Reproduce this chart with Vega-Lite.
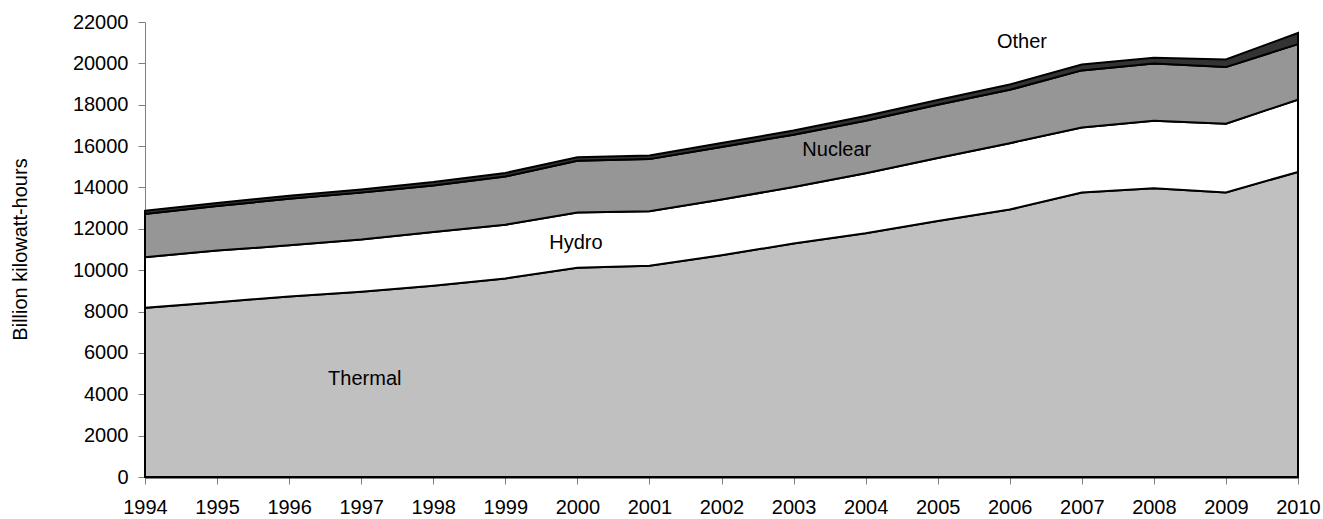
{
  "$schema": "https://vega.github.io/schema/vega-lite/v6.json",
  "width": 1153,
  "height": 455,
  "autosize": {"type": "none"},
  "padding": {"left": 145, "top": 22, "right": 25, "bottom": 42},
  "background": "white",
  "config": {
    "view": {"stroke": null},
    "font": "Liberation Sans"
  },
  "datasets": {
    "gen": [
      {"year": 1994, "source": "Thermal", "k": 1, "value": 8180},
      {"year": 1994, "source": "Hydro", "k": 2, "value": 2450},
      {"year": 1994, "source": "Nuclear", "k": 3, "value": 2090},
      {"year": 1994, "source": "Other", "k": 4, "value": 150},
      {"year": 1995, "source": "Thermal", "k": 1, "value": 8450},
      {"year": 1995, "source": "Hydro", "k": 2, "value": 2500},
      {"year": 1995, "source": "Nuclear", "k": 3, "value": 2150},
      {"year": 1995, "source": "Other", "k": 4, "value": 150},
      {"year": 1996, "source": "Thermal", "k": 1, "value": 8730},
      {"year": 1996, "source": "Hydro", "k": 2, "value": 2470},
      {"year": 1996, "source": "Nuclear", "k": 3, "value": 2250},
      {"year": 1996, "source": "Other", "k": 4, "value": 150},
      {"year": 1997, "source": "Thermal", "k": 1, "value": 8960},
      {"year": 1997, "source": "Hydro", "k": 2, "value": 2520},
      {"year": 1997, "source": "Nuclear", "k": 3, "value": 2270},
      {"year": 1997, "source": "Other", "k": 4, "value": 150},
      {"year": 1998, "source": "Thermal", "k": 1, "value": 9250},
      {"year": 1998, "source": "Hydro", "k": 2, "value": 2600},
      {"year": 1998, "source": "Nuclear", "k": 3, "value": 2250},
      {"year": 1998, "source": "Other", "k": 4, "value": 160},
      {"year": 1999, "source": "Thermal", "k": 1, "value": 9600},
      {"year": 1999, "source": "Hydro", "k": 2, "value": 2600},
      {"year": 1999, "source": "Nuclear", "k": 3, "value": 2330},
      {"year": 1999, "source": "Other", "k": 4, "value": 170},
      {"year": 2000, "source": "Thermal", "k": 1, "value": 10120},
      {"year": 2000, "source": "Hydro", "k": 2, "value": 2670},
      {"year": 2000, "source": "Nuclear", "k": 3, "value": 2500},
      {"year": 2000, "source": "Other", "k": 4, "value": 170},
      {"year": 2001, "source": "Thermal", "k": 1, "value": 10210},
      {"year": 2001, "source": "Hydro", "k": 2, "value": 2640},
      {"year": 2001, "source": "Nuclear", "k": 3, "value": 2520},
      {"year": 2001, "source": "Other", "k": 4, "value": 170},
      {"year": 2002, "source": "Thermal", "k": 1, "value": 10720},
      {"year": 2002, "source": "Hydro", "k": 2, "value": 2700},
      {"year": 2002, "source": "Nuclear", "k": 3, "value": 2540},
      {"year": 2002, "source": "Other", "k": 4, "value": 190},
      {"year": 2003, "source": "Thermal", "k": 1, "value": 11290},
      {"year": 2003, "source": "Hydro", "k": 2, "value": 2730},
      {"year": 2003, "source": "Nuclear", "k": 3, "value": 2530},
      {"year": 2003, "source": "Other", "k": 4, "value": 200},
      {"year": 2004, "source": "Thermal", "k": 1, "value": 11790},
      {"year": 2004, "source": "Hydro", "k": 2, "value": 2900},
      {"year": 2004, "source": "Nuclear", "k": 3, "value": 2540},
      {"year": 2004, "source": "Other", "k": 4, "value": 220},
      {"year": 2005, "source": "Thermal", "k": 1, "value": 12380},
      {"year": 2005, "source": "Hydro", "k": 2, "value": 3040},
      {"year": 2005, "source": "Nuclear", "k": 3, "value": 2580},
      {"year": 2005, "source": "Other", "k": 4, "value": 230},
      {"year": 2006, "source": "Thermal", "k": 1, "value": 12930},
      {"year": 2006, "source": "Hydro", "k": 2, "value": 3210},
      {"year": 2006, "source": "Nuclear", "k": 3, "value": 2580},
      {"year": 2006, "source": "Other", "k": 4, "value": 260},
      {"year": 2007, "source": "Thermal", "k": 1, "value": 13760},
      {"year": 2007, "source": "Hydro", "k": 2, "value": 3140},
      {"year": 2007, "source": "Nuclear", "k": 3, "value": 2760},
      {"year": 2007, "source": "Other", "k": 4, "value": 280},
      {"year": 2008, "source": "Thermal", "k": 1, "value": 13960},
      {"year": 2008, "source": "Hydro", "k": 2, "value": 3270},
      {"year": 2008, "source": "Nuclear", "k": 3, "value": 2760},
      {"year": 2008, "source": "Other", "k": 4, "value": 285},
      {"year": 2009, "source": "Thermal", "k": 1, "value": 13760},
      {"year": 2009, "source": "Hydro", "k": 2, "value": 3325},
      {"year": 2009, "source": "Nuclear", "k": 3, "value": 2735},
      {"year": 2009, "source": "Other", "k": 4, "value": 370},
      {"year": 2010, "source": "Thermal", "k": 1, "value": 14750},
      {"year": 2010, "source": "Hydro", "k": 2, "value": 3495},
      {"year": 2010, "source": "Nuclear", "k": 3, "value": 2685},
      {"year": 2010, "source": "Other", "k": 4, "value": 540}
    ],
    "labels": [
      {"year": 1997.05, "value": 4750, "text": "Thermal"},
      {"year": 1999.98, "value": 11300, "text": "Hydro"},
      {"year": 2003.6, "value": 15800, "text": "Nuclear"},
      {"year": 2006.17, "value": 21030, "text": "Other"}
    ]
  },
  "layer": [
    {
      "data": {"name": "gen"},
      "mark": {"type": "area", "stroke": "black", "strokeWidth": 2, "strokeJoin": "miter", "opacity": 1},
      "encoding": {
        "x": {
          "field": "year", "type": "quantitative",
          "scale": {"domain": [1994, 2010], "nice": false, "zero": false},
          "axis": {
            "title": null,
            "values": [1994, 1995, 1996, 1997, 1998, 1999, 2000, 2001, 2002, 2003, 2004, 2005, 2006, 2007, 2008, 2009, 2010],
            "format": "d",
            "grid": false,
            "domainColor": "black",
            "domainWidth": 2,
            "tickColor": "#808080",
            "tickSize": 7,
            "labelFontSize": 20,
            "labelColor": "black",
            "labelPadding": 13,
            "labelFlush": false,
            "labelOverlap": false
          }
        },
        "y": {
          "field": "value", "type": "quantitative", "stack": "zero",
          "scale": {"domain": [0, 22000], "nice": false},
          "axis": {
            "title": "Billion kilowatt-hours",
            "values": [0, 2000, 4000, 6000, 8000, 10000, 12000, 14000, 16000, 18000, 20000, 22000],
            "format": "d",
            "grid": false,
            "domainColor": "#808080",
            "tickColor": "#808080",
            "tickSize": 7,
            "labelFontSize": 20,
            "labelColor": "black",
            "labelPadding": 10,
            "titleFontSize": 20,
            "titleFontWeight": "normal",
            "titleColor": "black",
            "titleX": -125,
            "titleY": 227,
            "titleAngle": -90,
            "titleAlign": "center",
            "titleBaseline": "middle"
          }
        },
        "color": {
          "field": "source", "type": "nominal",
          "scale": {"domain": ["Thermal", "Hydro", "Nuclear", "Other"], "range": ["#c0c0c0", "#ffffff", "#969696", "#333333"]},
          "legend": null
        },
        "order": {"field": "k", "type": "quantitative"}
      }
    },
    {
      "data": {"name": "labels"},
      "mark": {"type": "text", "fontSize": 20, "color": "black", "align": "center", "baseline": "middle"},
      "encoding": {
        "x": {"field": "year", "type": "quantitative"},
        "y": {"field": "value", "type": "quantitative"},
        "text": {"field": "text"}
      }
    }
  ]
}
